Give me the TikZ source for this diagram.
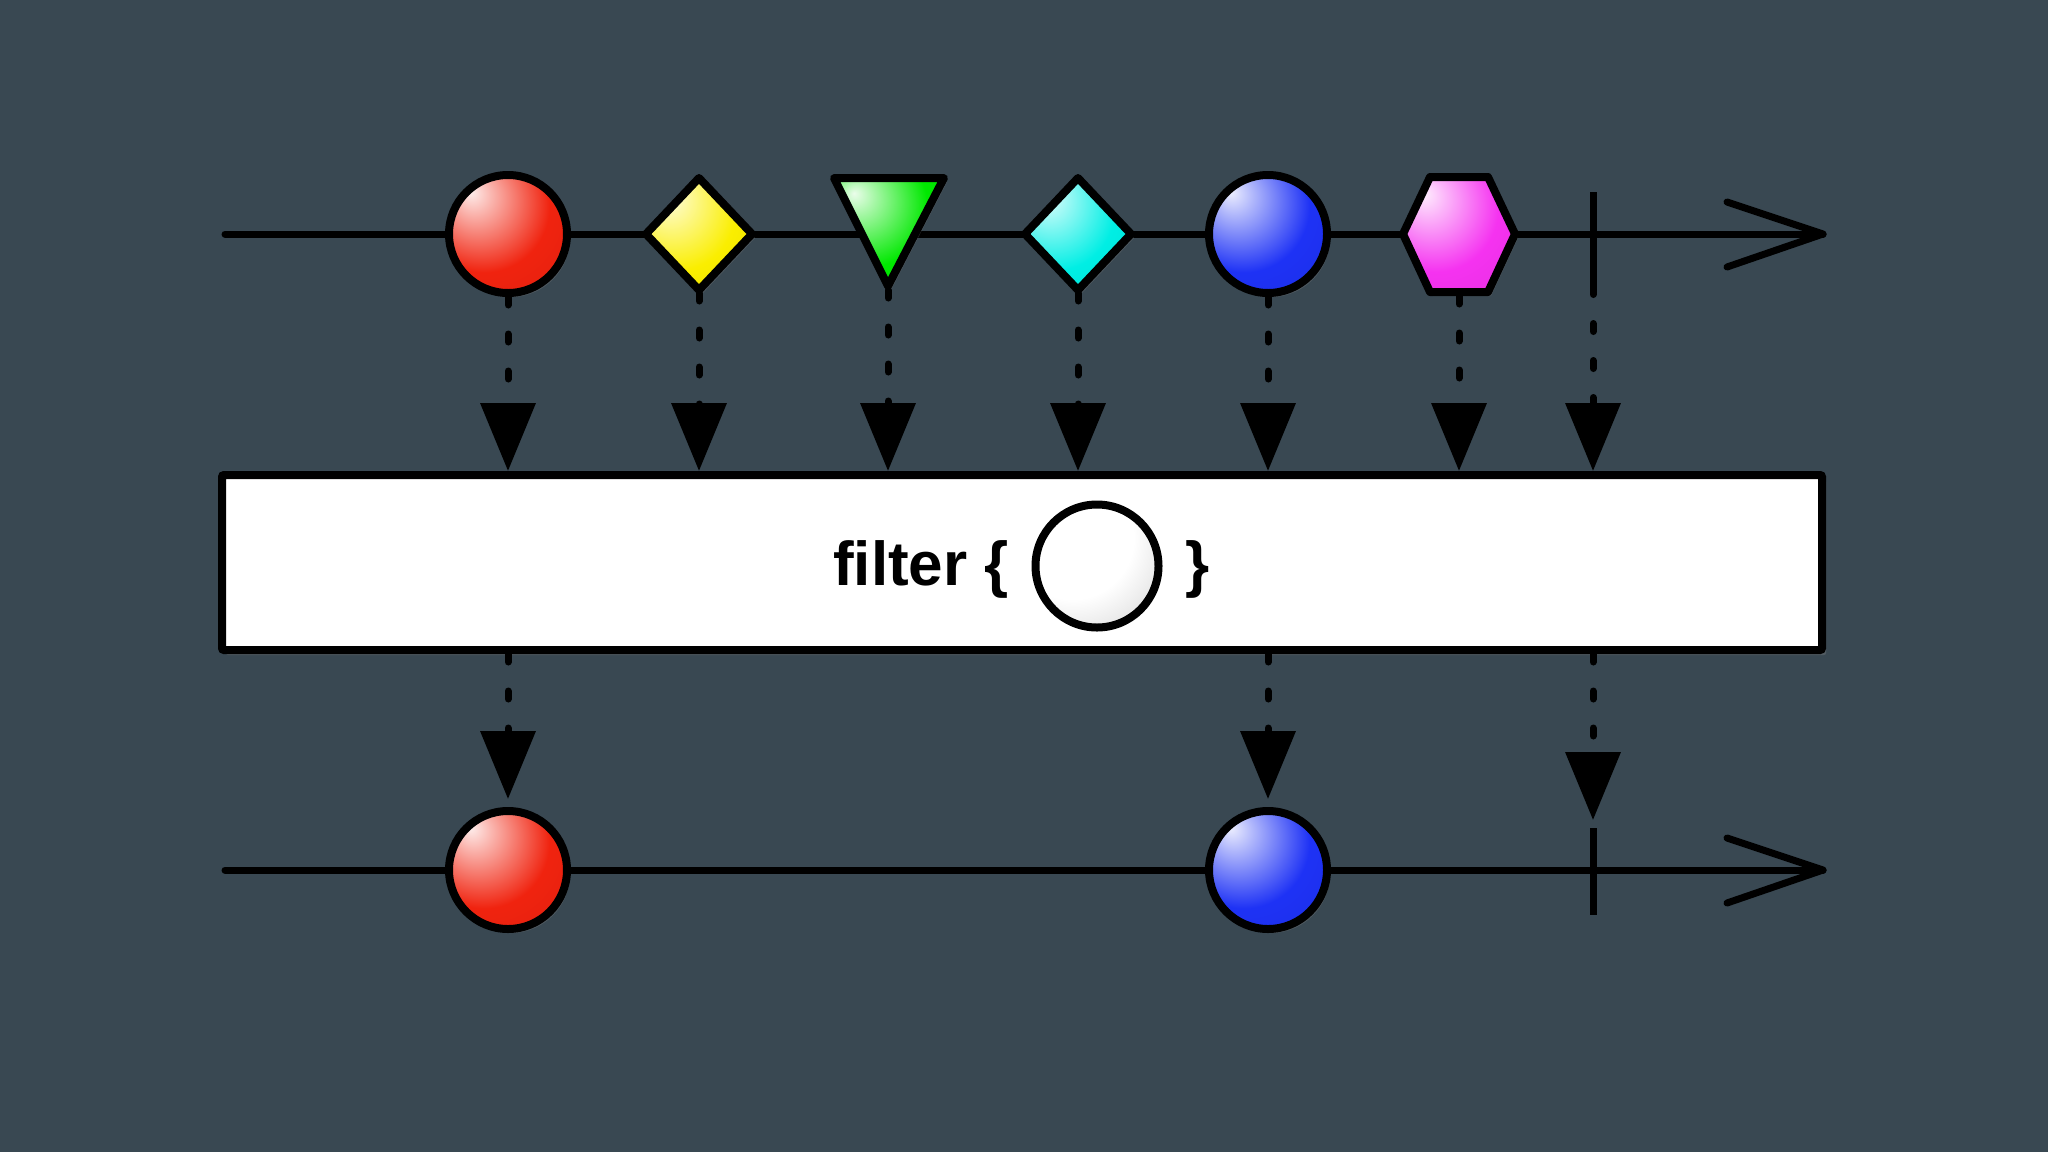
\documentclass[tikz,border=0pt]{standalone}
\usepackage{fontspec}
\setmainfont{Liberation Sans}
\usetikzlibrary{arrows.meta,shapes.geometric,shadows,calc}
\definecolor{bg}{RGB}{57,72,82}
\definecolor{cred}{RGB}{240,35,15}
\definecolor{cyellow}{RGB}{250,238,0}
\definecolor{cgreen}{RGB}{0,232,0}
\definecolor{ccyan}{RGB}{0,238,228}
\definecolor{cblue}{RGB}{30,50,245}
\definecolor{cmag}{RGB}{245,50,240}
\colorlet{gbase}{red}
\pgfdeclareradialshading[gbase]{gloss}{\pgfpoint{-16bp}{18bp}}{%
  color(0bp)=(gbase!8!white);
  color(8bp)=(gbase!35!white);
  color(28bp)=(gbase);
  color(55bp)=(gbase!92!black);
  color(80bp)=(gbase!78!black)}
\pgfdeclareradialshading{wgloss}{\pgfpoint{-14bp}{16bp}}{%
  color(0bp)=(white);
  color(25bp)=(white);
  color(45bp)=(black!16);
  color(60bp)=(black!36);
  color(72bp)=(black!50);
  color(90bp)=(black!55)}
\tikzset{
  gc/.code={\colorlet{gbase}{#1}},
  glossy/.style={shading=gloss, shade, draw=black, line width=8pt, line join=round,
    drop shadow={opacity=0.3, shadow xshift=3pt, shadow yshift=-4pt}},
  ballnode/.style={circle, glossy, minimum size=118pt, inner sep=0pt},
  timeline/.style={line width=7pt, line cap=round, line join=round},
  termline/.style={line width=7pt},
  flow/.style={line width=7pt, line cap=round, dash pattern=on 8pt off 29pt,
    -{Triangle[length=68pt,width=54pt]}},
  labeltext/.style={font=\fontsize{62pt}{70pt}\selectfont\bfseries, inner sep=0pt, text=black},
}
\begin{document}
\begin{tikzpicture}[x=1pt,y=-1pt]
\useasboundingbox (0,0) rectangle (2048,1152);
\fill[bg] (0,0) rectangle (2048,1152);

% top timeline
\coordinate (a0) at (225,234);
\coordinate (a1) at (1823,234);
\draw[timeline] (a0) -- (a1);
\draw[timeline] ($(a1)+(-96,-32)$) -- (a1) -- ($(a1)+(-96,33)$);

% top terminator
\coordinate (etop) at (1593,192);
\coordinate (ebot) at (1593,290);
\draw[termline] (etop) -- (ebot);

% top events
\node[ballnode, gc=cred] (r1) at (508,234) {};
\path[glossy, gc=cyellow] (646,234) -- (699,178) -- (752,234) -- (699,290) -- cycle;
\coordinate (y1) at (699,293);
\path[glossy, gc=cgreen] (834,178) -- (944,178) -- (888,286) -- cycle;
\coordinate (g1) at (888,290);
\path[glossy, gc=ccyan] (1025,234) -- (1078,178) -- (1131,234) -- (1078,290) -- cycle;
\coordinate (c1) at (1078,293);
\node[ballnode, gc=cblue] (b1) at (1268,234) {};
\path[glossy, gc=cmag] (1403,234) -- (1430,177) -- (1488,177) -- (1515,234) -- (1488,292) -- (1430,292) -- cycle;
\coordinate (m1) at (1459,296);

% operator box
\node[draw, line width=8pt, fill=white, minimum width=1600pt, minimum height=175pt,
  inner sep=0pt, rounded corners=2pt,
  drop shadow={opacity=0.35, shadow xshift=4pt, shadow yshift=-5pt}] (box) at (1022,562.5) {};
\node[labeltext, anchor=base west] (ftext) at (833,585) {filter \{};
\node[circle, draw=black, line width=8pt, shading=wgloss, shade, minimum size=123pt, inner sep=0pt] (fball) at (1097,566) {};
\node[labeltext, anchor=base west] (fclose) at (1185,585) {\}};

% top connectors
\foreach \n in {r1,b1}
  \draw[flow] (\n.south) -- (\n.south |- box.north);
\foreach \n in {y1,g1,c1,m1}
  \draw[flow] (\n) -- (\n |- box.north);
\draw[flow, dash phase=3.5pt] (ebot) -- (ebot |- box.north);

% bottom timeline
\coordinate (d0) at (225,870);
\coordinate (d1) at (1823,870);
\draw[timeline] (d0) -- (d1);
\draw[timeline] ($(d1)+(-96,-32)$) -- (d1) -- ($(d1)+(-96,33)$);
\coordinate (ftop) at (1593,828);
\coordinate (fbot) at (1593,915);
\draw[termline] (ftop) -- (fbot);
\node[ballnode, gc=cred] (r2) at (508,870) {};
\node[ballnode, gc=cblue] (b2) at (1268,870) {};

% bottom connectors
\draw[flow, shorten >=8pt] (r2 |- box.south) -- (r2.north);
\draw[flow, shorten >=8pt] (b2 |- box.south) -- (b2.north);
\draw[flow] (ftop |- box.south) -- ($(ftop)+(0,-8)$);
\end{tikzpicture}
\end{document}
